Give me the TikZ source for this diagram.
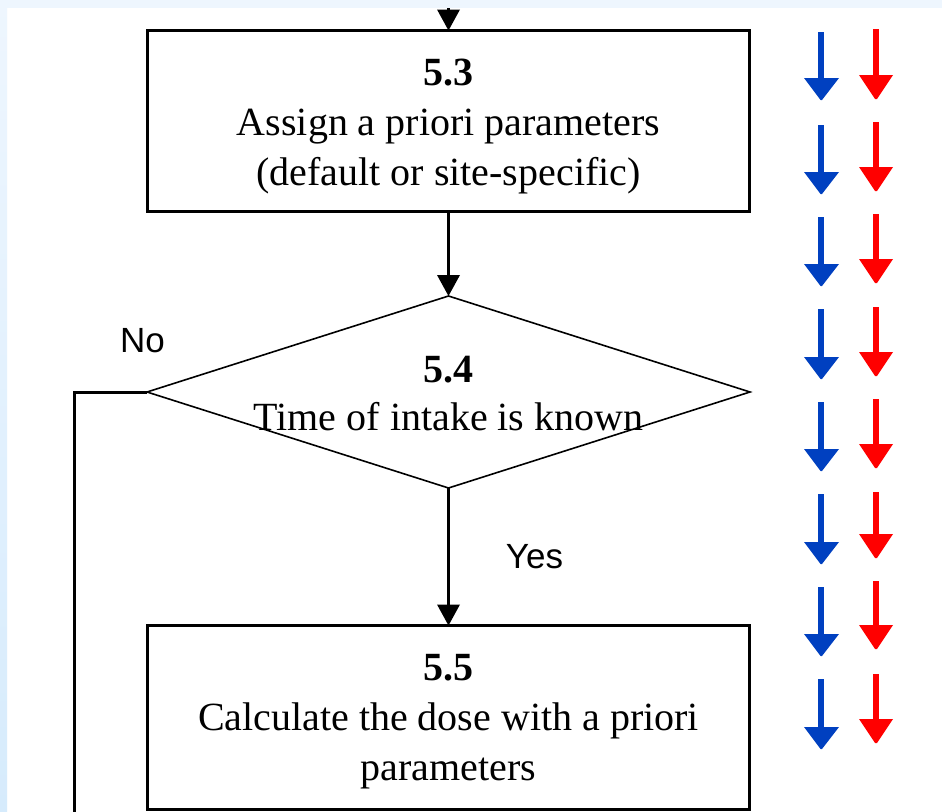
\documentclass[tikz,border=0pt]{standalone}
\usepackage{fontspec}
\setmainfont{Liberation Serif}
\newfontfamily\labelsans{Liberation Sans}
\usetikzlibrary{arrows.meta,shapes.geometric}
\definecolor{pageblue}{RGB}{238,246,254}
\definecolor{pagebluedark}{RGB}{214,235,252}
\definecolor{arrowblue}{RGB}{0,64,192}
\definecolor{arrowred}{RGB}{255,0,0}
% invisible strut that lowers the first line of a box caption
\newcommand{\toplift}[1]{\rule{0pt}{#1}}

\begin{document}
\begin{tikzpicture}[x=1pt,y=-1pt,
  stepbox/.style={draw,line width=3pt,minimum width=602.5pt,inner sep=0pt,outer sep=0pt,
    align=center,font=\fontsize{40}{50}\selectfont},
  decision/.style={draw,diamond,line width=1.6pt,minimum width=603pt,minimum height=192pt,
    inner sep=0pt,outer sep=0pt},
  decisiontext/.style={align=center,inner sep=0pt,font=\fontsize{40}{48}\selectfont},
  flow/.style={line width=2.7pt,-{Triangle[length=21pt,width=23pt,line width=0pt]}},
  branch/.style={line width=3pt},
  answer/.style={anchor=base,inner sep=0pt,font=\labelsans\fontsize{35}{40}\selectfont},
]
\useasboundingbox (0,0) rectangle (942,811);

% page background with the light blue frame at the top and left
\fill[white] (0,0) rectangle (942,811);
\fill[pageblue] (0,0) rectangle (942,8.3);
\shade[top color=pageblue,bottom color=pagebluedark] (0,0) rectangle (7,811);

% flow chart
\node[stepbox,minimum height=181pt] (b53) at (448.5,121)
  {\toplift{37pt}\textbf{5.3}\\Assign a priori parameters\\(default or site-specific)};
\node[decision] (d54) at (448.5,392) {};
\node[decisiontext] (t54) at (448.5,391) {\toplift{31pt}\textbf{5.4}\\Time of intake is known};
\node[stepbox,minimum height=183.5pt] (b55) at (448.5,717.25)
  {\toplift{35pt}\textbf{5.5}\\Calculate the dose with a priori\\parameters};

\coordinate (intop) at (448.5,8);
\coordinate (noend) at (74.5,830);

\draw[flow] (intop) -- (b53.north);
\draw[flow] (b53.south) -- (d54.north);
\draw[flow] (d54.south) -- (b55.north);
\draw[branch] (d54.west) -| (noend);

\node[answer] (no) at (142.5,352) {No};
\node[answer] (yes) at (534.5,568) {Yes};

% column of blue and red downward arrows
\foreach \t/\b in {32/100,125/194,217/286,309/379,402/471,494/564,587/656,679/749}{
  \fill[arrowblue] (818,\t) rectangle (824,\b-22);
  \fill[arrowblue] (804,\b-22) -- (839,\b-22) -- (822,\b) -- (820.5,\b) -- cycle;
}
\foreach \t/\b in {29/99,122/191,214/283,307/376,399/468,492/558,581/649,674/743}{
  \fill[arrowred] (873,\t) rectangle (879,\b-24);
  \fill[arrowred] (859,\b-24) -- (893,\b-24) -- (877,\b) -- (875,\b) -- cycle;
}
\end{tikzpicture}
\end{document}
